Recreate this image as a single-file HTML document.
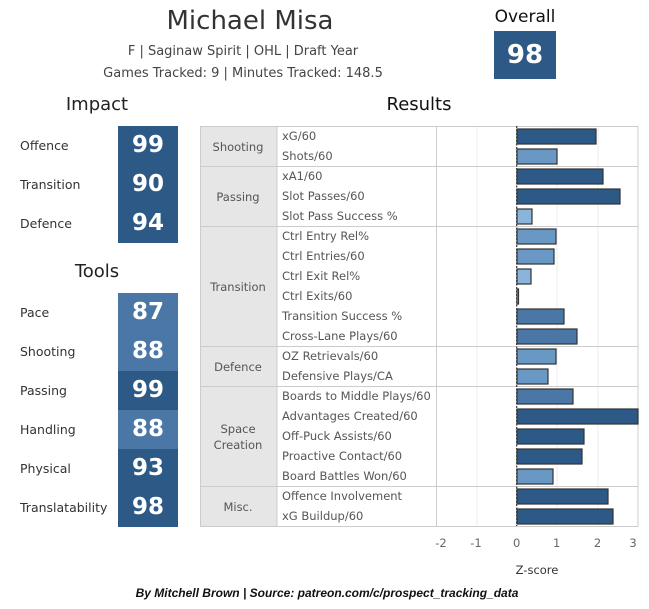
<!DOCTYPE html>
<html><head><meta charset="utf-8"><style>
body{margin:0;width:649px;height:609px;background:#fff;font-family:"DejaVu Sans","Liberation Sans",sans-serif;position:relative;overflow:hidden}
.a{position:absolute;white-space:nowrap}
.t{position:absolute;width:60px;left:118px;color:#fff;font-size:23px;font-weight:bold;text-align:center;background:#2d5986}
.l{position:absolute;left:20px;font-size:12.5px;color:#333}
</style></head><body>
<div class="a" style="left:0;width:500px;text-align:center;top:6px;font-size:26px;color:#333">Michael Misa</div>
<div class="a" style="left:0;width:486px;text-align:center;top:44px;font-size:13px;color:#444">F | Saginaw Spirit | OHL | Draft Year</div>
<div class="a" style="left:0;width:486px;text-align:center;top:66px;font-size:13px;color:#444">Games Tracked: 9 | Minutes Tracked: 148.5</div>
<div class="a" style="left:474px;width:102px;text-align:center;top:7px;font-size:17px;color:#111">Overall</div>
<div class="a" style="left:494px;width:62px;top:31px;height:48px;line-height:48px;background:#2d5986;color:#fff;font-size:26px;font-weight:bold;text-align:center">98</div>
<div class="a" style="left:0;width:194px;text-align:center;top:94px;font-size:18px;color:#222">Impact</div>
<div class="a" style="left:0;width:194px;text-align:center;top:261px;font-size:18px;color:#222">Tools</div>
<div class="a" style="left:200px;width:438px;text-align:center;top:94px;font-size:18px;color:#111">Results</div>

<div class="t" style="top:126px;height:39px;line-height:39px">99</div>
<div class="t" style="top:165px;height:39px;line-height:39px">90</div>
<div class="t" style="top:204px;height:39px;line-height:39px">94</div>
<div class="l" style="top:138px">Offence</div>
<div class="l" style="top:177px">Transition</div>
<div class="l" style="top:216px">Defence</div>

<div class="t" style="top:293px;height:39px;line-height:39px;background:#4a77a6">87</div>
<div class="t" style="top:332px;height:39px;line-height:39px;background:#4a77a6">88</div>
<div class="t" style="top:371px;height:39px;line-height:39px">99</div>
<div class="t" style="top:410px;height:39px;line-height:39px;background:#4a77a6">88</div>
<div class="t" style="top:449px;height:39px;line-height:39px">93</div>
<div class="t" style="top:488px;height:39px;line-height:39px">98</div>
<div class="l" style="top:305px">Pace</div>
<div class="l" style="top:344px">Shooting</div>
<div class="l" style="top:383px">Passing</div>
<div class="l" style="top:422px">Handling</div>
<div class="l" style="top:461px">Physical</div>
<div class="l" style="top:500px">Translatability</div>

<svg class="a" style="left:0;top:0" width="649" height="609" font-family="DejaVu Sans, Liberation Sans, sans-serif">
<rect x="200" y="126" width="77" height="400" fill="#e6e6e6"/>
<g stroke="#eeeeee"><line x1="477" y1="126" x2="477" y2="526"/><line x1="557" y1="126" x2="557" y2="526"/><line x1="598" y1="126" x2="598" y2="526"/></g>
<g stroke="#cccccc" fill="none">
<rect x="200.5" y="126.5" width="437.5" height="400"/>
<line x1="277" y1="126" x2="277" y2="526"/><line x1="436.5" y1="126" x2="436.5" y2="526"/>
<line x1="200" y1="166.5" x2="638" y2="166.5"/><line x1="200" y1="226.5" x2="638" y2="226.5"/>
<line x1="200" y1="346.5" x2="638" y2="346.5"/><line x1="200" y1="386.5" x2="638" y2="386.5"/>
<line x1="200" y1="486.5" x2="638" y2="486.5"/>
</g>
<g font-size="11.5" fill="#555" text-anchor="middle">
<text x="238" y="151">Shooting</text><text x="238" y="201">Passing</text>
<text x="238" y="291">Transition</text><text x="238" y="371">Defence</text>
<text x="238" y="433">Space</text><text x="238" y="449">Creation</text>
<text x="238" y="511">Misc.</text>
</g>
<g font-size="11.5" fill="#555">
<text x="282" y="140">xG/60</text><text x="282" y="160">Shots/60</text>
<text x="282" y="180">xA1/60</text><text x="282" y="200">Slot Passes/60</text><text x="282" y="220">Slot Pass Success %</text>
<text x="282" y="240">Ctrl Entry Rel%</text><text x="282" y="260">Ctrl Entries/60</text><text x="282" y="280">Ctrl Exit Rel%</text><text x="282" y="300">Ctrl Exits/60</text><text x="282" y="320">Transition Success %</text><text x="282" y="340">Cross-Lane Plays/60</text>
<text x="282" y="360">OZ Retrievals/60</text><text x="282" y="380">Defensive Plays/CA</text>
<text x="282" y="400">Boards to Middle Plays/60</text><text x="282" y="420">Advantages Created/60</text><text x="282" y="440">Off-Puck Assists/60</text><text x="282" y="460">Proactive Contact/60</text><text x="282" y="480">Board Battles Won/60</text>
<text x="282" y="500">Offence Involvement</text><text x="282" y="520">xG Buildup/60</text>
</g>
<g stroke="#333" stroke-width="1.2">
<rect x="517" y="129" width="79" height="15" fill="#2d5986"/>
<rect x="517" y="149" width="40" height="15" fill="#6898c3"/>
<rect x="517" y="169" width="86" height="15" fill="#2d5986"/>
<rect x="517" y="189" width="103" height="15" fill="#2d5986"/>
<rect x="517" y="209" width="15" height="15" fill="#8ab4da"/>
<rect x="517" y="229" width="39" height="15" fill="#6898c3"/>
<rect x="517" y="249" width="37" height="15" fill="#6898c3"/>
<rect x="517" y="269" width="14" height="15" fill="#8ab4da"/>
<rect x="517" y="289" width="1.5" height="15" fill="#ddd"/>
<rect x="517" y="309" width="47" height="15" fill="#4a77a6"/>
<rect x="517" y="329" width="60" height="15" fill="#4a77a6"/>
<rect x="517" y="349" width="39" height="15" fill="#6898c3"/>
<rect x="517" y="369" width="31" height="15" fill="#6898c3"/>
<rect x="517" y="389" width="56" height="15" fill="#4a77a6"/>
<rect x="517" y="409" width="121" height="15" fill="#2d5986"/>
<rect x="517" y="429" width="67" height="15" fill="#2d5986"/>
<rect x="517" y="449" width="65" height="15" fill="#2d5986"/>
<rect x="517" y="469" width="36" height="15" fill="#6898c3"/>
<rect x="517" y="489" width="91" height="15" fill="#2d5986"/>
<rect x="517" y="509" width="96" height="15" fill="#2d5986"/>
</g>
<line x1="516.7" y1="126" x2="516.7" y2="526" stroke="#333" stroke-dasharray="2,1.5" stroke-width="1.2"/>
<g font-size="11.5" fill="#666" text-anchor="middle">
<text x="441" y="547">-2</text><text x="476" y="547">-1</text><text x="516.7" y="547">0</text><text x="556.7" y="547">1</text><text x="597.5" y="547">2</text><text x="633" y="547">3</text>
</g>
<text x="537" y="574" font-size="11.5" fill="#333" text-anchor="middle">Z-score</text>
<text x="327" y="597" font-size="12" fill="#111" font-weight="bold" font-style="italic" text-anchor="middle" font-family="Liberation Sans, sans-serif">By Mitchell Brown | Source: patreon.com/c/prospect_tracking_data</text>
</svg>
</body></html>
